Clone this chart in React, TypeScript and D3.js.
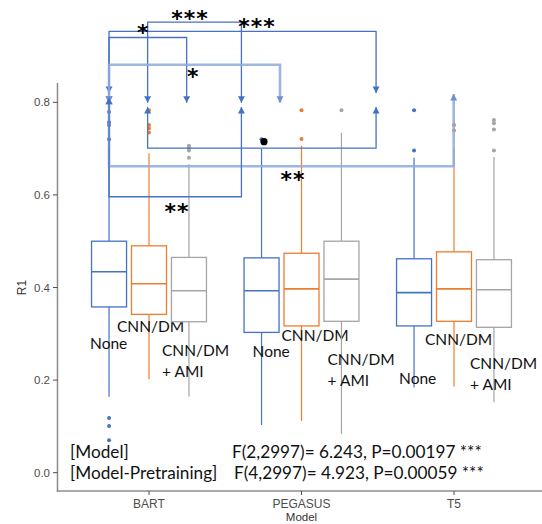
import React, { useEffect, useRef } from 'react';
import * as d3 from 'd3';

// categories
const models = ['BART', 'PEGASUS', 'T5'];
const pretraining = ['None', 'CNN/DM', 'CNN/DM + AMI'];
const colors = ['#4472C4', '#ED7D31', '#A5A5A5'];

// box statistics per pretraining series, one value per model
const q1 = [
  [0.358, 0.303, 0.317],
  [0.342, 0.317, 0.327],
  [0.326, 0.327, 0.314],
];
const median = [
  [0.434, 0.393, 0.389],
  [0.408, 0.397, 0.397],
  [0.393, 0.418, 0.395],
];
const q3 = [
  [0.5, 0.464, 0.462],
  [0.49, 0.474, 0.477],
  [0.465, 0.5, 0.46],
];
const whiskerLow = [
  [0.164, 0.103, 0.184],
  [0.202, 0.112, 0.186],
  [0.164, 0.0835, 0.152],
];
const whiskerHigh = [
  [0.7, 0.7, 0.68],
  [0.69, 0.706, 0.7],
  [0.666, 0.734, 0.682],
];
const outliers = [
  [[0.806, 0.8, 0.779, 0.757, 0.751, 0.72, 0.118, 0.101, 0.07], [0.72], [0.783, 0.696]],
  [[0.783, 0.751, 0.744, 0.735], [0.783, 0.721], [0.751, 0.739]],
  [[0.706, 0.701, 0.696, 0.68], [0.783], [0.762, 0.755, 0.741, 0.696]],
];

// significance brackets: x in model units (BART=0), y in R1 units
const bracketX1 = [-0.009, -0.262, -0.262, -0.262, -0.009, -0.262, -0.262];
const bracketX2 = [0.606, 1.489, 0.247, 0.859, 1.489, 1.998, 0.606];
const bracketLevel = [0.973, 0.953, 0.94, 0.881, 0.701, 0.662, 0.596];
const bracketTip1 = [0.799, 0.82, 0.799, 0.799, 0.79, 0.81, 0.81];
const bracketTip2 = [0.799, 0.82, 0.799, 0.799, 0.79, 0.818, 0.79];
const bracketLight = [false, false, false, true, false, true, false];
const bracketLabel = ['***', '***', '*', '*', '•', '**', '**'];
const labelX = [0.269, 0.708, -0.037, 0.29, 0.754, 0.944, 0.184];
const labelY = [0.989, 0.971, 0.958, 0.864, 0.715, 0.641, 0.572];

const yTicks = [0, 0.2, 0.4, 0.6, 0.8];

// hand placed box captions (dx from box centre, dy below q1)
const captionOffset = [
  [[-19, 42], [-9, 25], [-15, 58]],
  [[-32, 18], [-20, 15], [-29, 24]],
  [[-27, 34], [-14, 44], [-24, 42]],
];

const statLines = [
  ['[Model]', 'F(2,2997)= 6.243, P=0.00197 ***'],
  ['[Model-Pretraining]', 'F(4,2997)= 4.923, P=0.00059 ***'],
];

function App() {
  const ref = useRef<SVGSVGElement>(null);
  const width = 542;
  const height = 524;

  useEffect(() => {
    const svg = d3.select(ref.current);
    svg.selectAll('*').remove();

    const y = d3.scaleLinear().domain([0, 0.8]).range([472.7, 102.3]);
    const x = d3.scaleLinear().domain([0, 2]).range([149, 454]);
    const dodge = 0.262;
    const boxW = 35;
    const axisX = 57.5;
    const axisY = 491;

    const g = svg.append('g');

    // axes
    g.append('line')
      .attr('x1', axisX).attr('x2', axisX).attr('y1', 83).attr('y2', axisY + 0.75)
      .attr('stroke', '#8c8c8c').attr('stroke-width', 1.5);
    g.append('line')
      .attr('x1', axisX - 0.75).attr('x2', width).attr('y1', axisY).attr('y2', axisY)
      .attr('stroke', '#8c8c8c').attr('stroke-width', 1.5);

    const yt = g.selectAll('.ytick').data(yTicks).enter().append('g')
      .attr('transform', d => `translate(0,${y(d)})`);
    yt.append('line').attr('x1', 53).attr('x2', axisX).attr('stroke', '#4d4d4d');
    yt.append('text')
      .attr('x', 50).attr('dy', '0.35em')
      .attr('text-anchor', 'end')
      .style('font-family', 'Liberation Sans, Arial, sans-serif')
      .style('font-size', '11.5px')
      .attr('fill', '#4d4d4d')
      .text(d => d3.format('.1f')(d));

    const xt = g.selectAll('.xtick').data(models).enter().append('g')
      .attr('transform', (d, i) => `translate(${x(i)},0)`);
    xt.append('line').attr('y1', axisY).attr('y2', axisY + 4).attr('stroke', '#4d4d4d');
    xt.append('text')
      .attr('y', 507.5).attr('text-anchor', 'middle')
      .style('font-family', 'Liberation Sans, Arial, sans-serif')
      .style('font-size', '12px')
      .attr('fill', '#4d4d4d')
      .text(d => d);

    g.append('text')
      .attr('x', x(1)).attr('y', 521)
      .attr('text-anchor', 'middle')
      .style('font-family', 'Liberation Sans, Arial, sans-serif')
      .style('font-size', '11.5px')
      .attr('fill', '#333')
      .text('Model');

    g.append('text')
      .attr('transform', `translate(25.5,${y(0.4)}) rotate(-90)`)
      .attr('text-anchor', 'middle')
      .style('font-family', 'Liberation Sans, Arial, sans-serif')
      .style('font-size', '12px')
      .attr('fill', '#333')
      .text('R1');

    // boxes
    pretraining.forEach((p, s) => {
      models.forEach((m, i) => {
        const cx = x(i + (s - 1) * dodge);
        const col = colors[s];
        const bg = g.append('g');
        bg.append('line')
          .attr('x1', cx).attr('x2', cx)
          .attr('y1', y(q3[s][i])).attr('y2', y(whiskerHigh[s][i]))
          .attr('stroke', col).attr('stroke-width', 1.2);
        bg.append('line')
          .attr('x1', cx).attr('x2', cx)
          .attr('y1', y(q1[s][i])).attr('y2', y(whiskerLow[s][i]))
          .attr('stroke', col).attr('stroke-width', 1.2);
        bg.append('rect')
          .attr('x', cx - boxW / 2).attr('width', boxW)
          .attr('y', y(q3[s][i])).attr('height', y(q1[s][i]) - y(q3[s][i]))
          .attr('fill', 'white').attr('stroke', col).attr('stroke-width', 1.3);
        bg.append('line')
          .attr('x1', cx - boxW / 2).attr('x2', cx + boxW / 2)
          .attr('y1', y(median[s][i])).attr('y2', y(median[s][i]))
          .attr('stroke', col).attr('stroke-width', 1.6);
        bg.selectAll('circle').data(outliers[s][i]).enter().append('circle')
          .attr('cx', cx).attr('cy', d => y(d)).attr('r', 2)
          .attr('fill', col);

        const [dx, dy] = captionOffset[s][i];
        const lines = p === 'CNN/DM + AMI' ? ['CNN/DM', '+ AMI'] : [p];
        const t = g.append('text')
          .style('font-family', 'Lato, sans-serif')
          .style('font-size', '15.5px')
          .attr('fill', '#111');
        lines.forEach((l, k) => {
          t.append('tspan')
            .attr('x', cx + dx)
            .attr('y', y(q1[s][i]) + dy + k * 21)
            .text(l);
        });
      });
    });

    // significance brackets
    const blue = '#4472C4';
    const arrow = (xp: number, tip: number, down: boolean, light: boolean) => {
      const h = down ? -6.5 : 6.5;
      g.append('path')
        .attr('d', `M${xp - 3.5},${tip + h}L${xp + 3.5},${tip + h}L${xp},${tip}Z`)
        .attr('fill', light ? '#6f8fd0' : blue);
    };
    bracketLevel.forEach((lv, k) => {
      const x1 = x(bracketX1[k]);
      const x2 = x(bracketX2[k]);
      const yl = y(lv);
      const t1 = y(bracketTip1[k]);
      const t2 = y(bracketTip2[k]);
      const down = lv > bracketTip1[k];
      const light = bracketLight[k];
      g.append('path')
        .attr('d', `M${x1},${t1}L${x1},${yl}L${x2},${yl}L${x2},${t2}`)
        .attr('fill', 'none')
        .attr('stroke', light ? '#8eaadb' : blue)
        .attr('stroke-opacity', light ? 0.85 : 1)
        .attr('stroke-width', light ? 2.6 : 1.3);
      arrow(x1, t1, down, light);
      arrow(x2, t2, down, light);

      const lab = bracketLabel[k];
      if (lab === '•') {
        g.append('circle')
          .attr('cx', x(labelX[k])).attr('cy', y(labelY[k])).attr('r', 3.6)
          .attr('fill', '#000');
      } else {
        g.append('text')
          .attr('x', x(labelX[k])).attr('y', y(labelY[k]) + 11)
          .attr('text-anchor', 'middle')
          .style('font-family', 'DejaVu Sans, sans-serif')
          .style('font-size', '22px')
          .style('font-weight', 'bold')
          .attr('letter-spacing', '1px')
          .attr('fill', '#000')
          .text(lab);
      }
    });

    // ANOVA text
    statLines.forEach(([a, b], k) => {
      const yy = 458 + k * 21;
      g.append('text')
        .attr('x', 70).attr('y', yy)
        .style('font-family', 'Lato, sans-serif')
        .style('font-size', '17.2px')
        .attr('fill', '#111')
        .text(a);
      g.append('text')
        .attr('x', k === 0 ? 232 : 234).attr('y', yy)
        .style('font-family', 'Lato, sans-serif')
        .style('font-size', '17.2px')
        .attr('fill', '#111')
        .text(b);
    });
  }, []);

  return (
    <svg ref={ref} width={width} height={height}
      style={{ position: 'absolute', left: 0, top: 0, background: 'white' }} />
  );
}

export default App;
